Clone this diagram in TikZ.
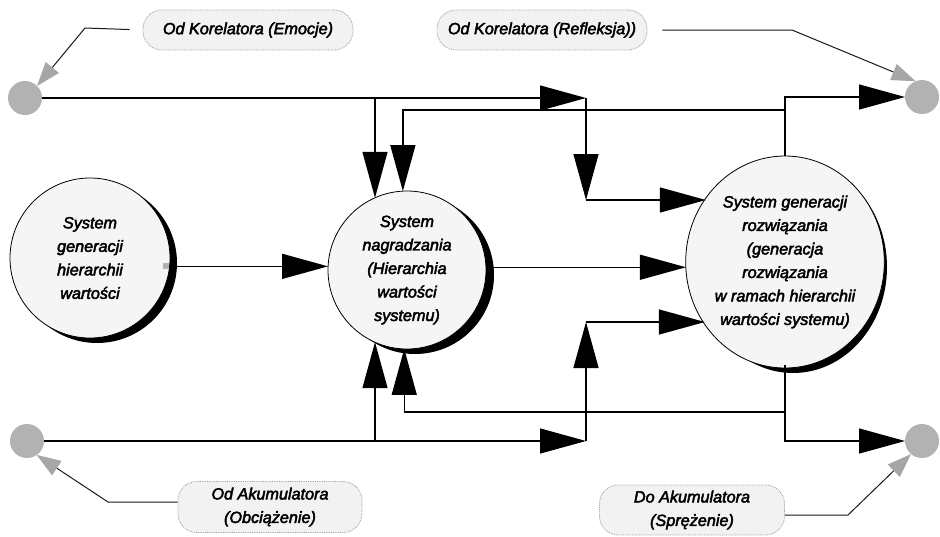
\documentclass[tikz,border=0pt]{standalone}
\usepackage{fontspec}
\setmainfont{Liberation Sans}
\newfontfamily\labelfont{Liberation Sans}
% outline the glyphs a little so the italic text sets heavier
\newcommand\heavytext{\special{pdf:literal direct 2 Tr 0.45 w}}
\usetikzlibrary{arrows.meta,shapes.geometric}
\begin{document}
\begin{tikzpicture}[x=1pt,y=-1pt,
  font=\labelfont\fontsize{16.2}{23.5}\selectfont\itshape\heavytext,
  bubble/.style={circle, draw=black, line width=0.8pt, fill=gray!8, inner sep=0pt,
    outer sep=0pt, align=center},
  oval/.style={ellipse, draw=black, line width=0.8pt, fill=gray!8, inner sep=0pt,
    outer sep=0pt, align=center},
  dot/.style={circle, fill={rgb,255:red,178;green,178;blue,178}, minimum size=34pt,
    inner sep=0pt, outer sep=0pt},
  pill/.style={draw=gray!80, densely dotted, line width=0.8pt, fill=gray!10,
    rounded corners=19pt, inner sep=0pt, align=center},
  wire/.style={line width=1.3pt},
  conn/.style={wire, -{Triangle[length=46pt,width=25pt]}},
  gconn/.style={line width=1pt, black!90, -{Triangle[length=24pt,width=17pt,color=gray!70]}}
]
\useasboundingbox (0,0) rectangle (940,536);
\fill[white] (0,0) rectangle (940,536);

% cast shadows of the three systems
\fill[black] (97,263) circle (80);
\fill[black] (415,275) circle (79);
\fill[black] (793,267) ellipse [x radius=94, y radius=106];

% systems
\node[bubble, minimum size=160pt] (lc) at (90,258)
  {System\\generacji\\hierarchii\\wartości};
\node[bubble, minimum size=158pt] (mc) at (407,270)
  {System\\nagradzania\\(Hierarchia\\wartości\\systemu)};
\node[oval, minimum width=188pt, minimum height=212pt] (rc) at (785,262)
  {System generacji\\rozwiązania\\(generacja\\rozwiązania\\w ramach hierarchii\\wartości systemu)};

% terminals
\node[dot] (tl) at (25,98) {};
\node[dot] (tr) at (922,97) {};
\node[dot] (bl) at (27,441) {};
\node[dot] (br) at (922,441) {};

% labels of the external links
\node[pill, minimum width=210pt, minimum height=40pt] (p1) at (248,30) {Od Korelatora (Emocje)};
\node[pill, minimum width=210pt, minimum height=40pt] (p2) at (542,30) {Od Korelatora (Refleksja))};
\node[pill, minimum width=184pt, minimum height=51pt] (p3) at (270,507) {Od Akumulatora\\(Obciążenie)};
\node[pill, minimum width=185pt, minimum height=50pt] (p4) at (692,510) {Do Akumulatora\\(Sprężenie)};

% junctions and corners
\coordinate (jt)  at (375,98);
\coordinate (tc)  at (586,98);
\coordinate (tc2) at (586,200);
\coordinate (jb)  at (375,441);
\coordinate (bc)  at (586,441);
\coordinate (bc2) at (586,322);
\coordinate (rt)  at (785,110);
\coordinate (rb)  at (785,412);
\coordinate (k1)  at (85,28);
\coordinate (k2)  at (792,30);
\coordinate (k3)  at (108,502);
\coordinate (k4)  at (848,515);

% value hierarchy into the reward system
\draw[conn] (lc.-6) -- (lc.-6 -| mc.178);
\fill[gray!60] ([shift={(-7,-3)}]lc.-6) rectangle ++(6,6);

% upper input
\draw[conn] (tl.east) -- (tc);
\draw[conn] (jt) -- (jt |- mc.114);
\draw[conn] (tc) -- (tc2);
\draw[conn] (tc2) -- (tc2 -| rc.141);

% lower input
\draw[conn] (bl.east) -- (bc);
\draw[conn] (jb) -- (jb |- mc.246);
\draw[conn] (bc) -- (bc2);
\draw[conn] (bc2) -- (bc2 -| rc.218);

% reward system into the solution generator
\draw[conn] (mc.2) -- (mc.2 -| rc.184);

% outputs of the solution generator
\draw[wire] (rc.north) -- (rt);
\draw[conn] (rt) |- (tr.west);
\draw[conn] (rt) -| (mc.93);
\draw[wire] ([yshift=3]rc.south) -- (rb);
\draw[conn] (rb) |- (br.west);
\draw[conn] (rb) -| (mc.268);

% external links
\draw[gconn, shorten <=13pt] (p1.west) -- (k1) -- (tl.45);
\draw[gconn, shorten <=15pt] (p2.east) -- (k2) -- (tr.112);
\draw[gconn] (p3.west |- k3) -- (k3) -- (bl.-55);
\draw[gconn] (p4.east |- k4) -- (k4) -- (br.-130);
\end{tikzpicture}
\end{document}
